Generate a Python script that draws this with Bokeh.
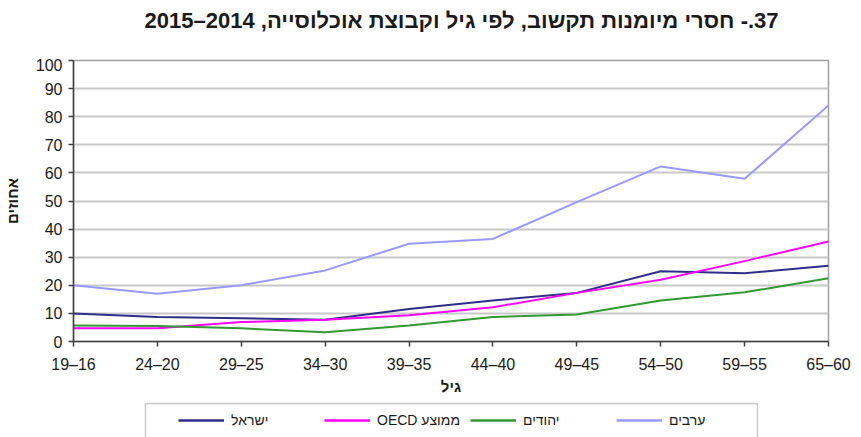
from bokeh.plotting import figure
from bokeh.layouts import column
from bokeh.models import (Range1d, FixedTicker, Legend, LegendItem, Label,
                          BoxAnnotation)
from bokeh.core.properties import value
from bokeh.embed import file_html
from bokeh.resources import INLINE

# ---- data ----
age_groups = ["16–19", "20–24", "25–29", "30–34", "35–39",
              "40–44", "45–49", "50–54", "55–59", "60–65"]
israel = [10.0, 8.7, 8.3, 7.7, 11.6, 14.6, 17.3, 25.0, 24.3, 27.0]
oecd = [4.7, 4.7, 6.9, 7.7, 9.3, 12.2, 17.3, 22.0, 28.6, 35.6]
jews = [5.7, 5.5, 4.7, 3.3, 5.7, 8.7, 9.6, 14.6, 17.5, 22.5]
arabs = [20.0, 17.0, 20.0, 25.3, 34.8, 36.5, 49.6, 62.3, 57.9, 84.0]
series_names = ["ישראל", "ממוצע OECD", "יהודים", "ערבים"]
y_ticks = [0, 10, 20, 30, 40, 50, 60, 70, 80, 90, 100]
title_text = "37.- חסרי מיומנות תקשוב, לפי גיל וקבוצת אוכלוסייה, 2014–2015"
x_label = "גיל"
y_label = "אחוזים"

FONT = "Liberation Sans"
W = 861
LEFT, RIGHT = 73, 828          # frame edges in page pixels
colors = ["#2e2e8a", "#ff00ff", "#339933", "#9999ff"]
NAN = float("nan")


def rtl(s):
    # right-to-left embedding so Hebrew text is laid out as in the original
    return "\u202b" + s + "\u202c"


def strip_fig(h):
    # helper strip whose frame lines up with the chart frame; x units = page px
    f = figure(width=W, height=h, output_backend="svg", toolbar_location=None,
               x_axis_location=None, y_axis_location=None,
               min_border_left=LEFT, min_border_right=W - RIGHT,
               min_border_top=0, min_border_bottom=0,
               x_range=Range1d(LEFT, RIGHT), y_range=Range1d(0, h))
    f.grid.visible = False
    f.outline_line_color = None
    f.background_fill_color = "white"
    f.border_fill_color = "white"
    return f


# ---- title strip ----
TH = 58
pt = strip_fig(TH)
pt.add_layout(Label(x=461, y=TH - 20, text=rtl(title_text), text_align="center",
                    text_baseline="middle", text_font=FONT, text_font_size="22px",
                    text_font_style="bold", text_color="#1a1a1a"))

# ---- main chart ----
x = list(range(len(age_groups)))
p = figure(width=W, height=342, output_backend="svg", toolbar_location=None,
           x_range=Range1d(0, len(age_groups) - 1), y_range=Range1d(0, 100),
           min_border_left=LEFT, min_border_right=W - RIGHT, min_border_top=2,
           min_border_bottom=59)
p.background_fill_color = "white"
p.border_fill_color = "white"
p.outline_line_color = "#a0a0a0"
p.outline_line_width = 1.5

p.xaxis.ticker = FixedTicker(ticks=x)
p.xaxis.major_label_overrides = {i: rtl(lab) for i, lab in enumerate(age_groups)}
p.yaxis.ticker = FixedTicker(ticks=y_ticks)
for ax in (p.xaxis[0], p.yaxis[0]):
    ax.minor_tick_line_color = None
    ax.major_tick_in = 0
    ax.major_tick_out = 5
    ax.axis_line_color = "#404040"
    ax.axis_line_width = 1.5
    ax.major_tick_line_color = "#404040"
    ax.major_tick_line_width = 1.5
    ax.major_label_text_font = FONT
    ax.major_label_text_font_size = "16px"
    ax.major_label_text_color = "#1a1a1a"
    ax.axis_label_text_font = FONT
    ax.axis_label_text_font_size = "15px"
    ax.axis_label_text_font_style = "bold"
    ax.axis_label_text_color = "#1a1a1a"
p.xaxis.axis_label = x_label
p.yaxis.axis_label = y_label
p.xaxis.major_label_standoff = 9
p.yaxis.major_label_standoff = 6
p.xaxis.axis_label_standoff = 2
p.yaxis.axis_label_standoff = 12

p.xgrid.grid_line_color = None
p.ygrid.grid_line_color = "#c8c8c8"
p.ygrid.grid_line_width = 2

values = [israel, oecd, jews, arabs]
for vals, col in zip(values, colors):
    p.line(x, vals, line_color=col, line_width=2)

# ---- legend strip ----
LH = 37
pl = strip_fig(LH)
swatches = [pl.line([NAN], [NAN], line_color=col, line_width=2.5) for col in colors]
pl.add_layout(BoxAnnotation(left=145, right=757, top=LH - 3, bottom=-6,
                            fill_color=None, line_color="#505050", line_width=1.5))
legend = Legend(items=[LegendItem(label=value(rtl(n)), renderers=[r])
                       for n, r in zip(series_names, swatches)],
                orientation="horizontal", location=(178 - LEFT, 8))
legend.label_text_font = FONT
legend.label_text_font_size = "14px"
legend.label_text_color = "#1a1a1a"
legend.glyph_width = 46
legend.glyph_height = 18
legend.label_standoff = 7
legend.label_width = 88
legend.spacing = 5
legend.padding = 0
legend.margin = 0
legend.border_line_color = None
legend.background_fill_alpha = 0
pl.add_layout(legend, "center")

layout = column(pt, p, pl, spacing=0)
open("out.html", "w").write(file_html(layout, INLINE))
